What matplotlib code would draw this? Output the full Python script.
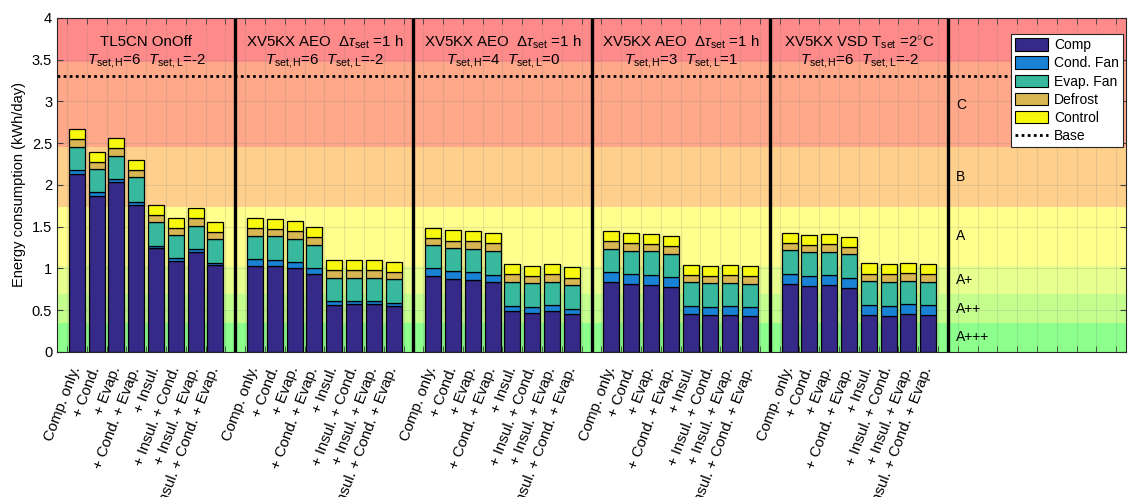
import matplotlib
matplotlib.use("Agg")
import matplotlib.pyplot as plt
from matplotlib.patches import Patch
from matplotlib.lines import Line2D
import numpy as np

plt.rcParams['font.family'] = ['Liberation Sans', 'DejaVu Sans']
plt.rcParams['mathtext.fontset'] = 'custom'
plt.rcParams['mathtext.rm'] = 'Liberation Sans'
plt.rcParams['mathtext.it'] = 'Liberation Sans:italic'

# ---- data (kWh/day) ----
variants = ["Comp. only.", "+ Cond.", "+ Evap.", "+ Cond. + Evap.", "+ Insul.",
            "+ Insul. + Cond.", "+ Insul. + Evap.", "+ Insul. + Cond. + Evap."]

titles_l1 = ["TL5CN OnOff",
             r"XV5KX AEO  $\Delta\tau_{\mathrm{set}}$ =1 h",
             r"XV5KX AEO  $\Delta\tau_{\mathrm{set}}$ =1 h",
             r"XV5KX AEO  $\Delta\tau_{\mathrm{set}}$ =1 h",
             r"XV5KX VSD T$_{\mathrm{set}}$ =2$^{\circ}$C"]
titles_l2 = [r"$T_{\mathrm{set,H}}$=6  $T_{\mathrm{set,L}}$=-2",
             r"$T_{\mathrm{set,H}}$=6  $T_{\mathrm{set,L}}$=-2",
             r"$T_{\mathrm{set,H}}$=4  $T_{\mathrm{set,L}}$=0",
             r"$T_{\mathrm{set,H}}$=3  $T_{\mathrm{set,L}}$=1",
             r"$T_{\mathrm{set,H}}$=6  $T_{\mathrm{set,L}}$=-2"]

comp_g1 = [2.13, 1.865, 2.03, 1.76, 1.245, 1.09, 1.20, 1.04]
comp_g2 = [1.035, 1.025, 1.005, 0.935, 0.563, 0.57, 0.57, 0.55]
comp_g3 = [0.905, 0.875, 0.865, 0.835, 0.487, 0.467, 0.487, 0.45]
comp_g4 = [0.834, 0.81, 0.80, 0.775, 0.45, 0.44, 0.443, 0.431]
comp_g5 = [0.814, 0.79, 0.798, 0.766, 0.443, 0.435, 0.451, 0.439]

cond_g1 = [0.05, 0.045, 0.04, 0.04, 0.03, 0.03, 0.03, 0.03]
cond_g2 = [0.075, 0.075, 0.07, 0.07, 0.045, 0.04, 0.04, 0.04]
cond_g3 = [0.095, 0.09, 0.09, 0.09, 0.068, 0.075, 0.072, 0.07]
cond_g4 = [0.12, 0.12, 0.12, 0.12, 0.10, 0.104, 0.104, 0.104]
cond_g5 = [0.124, 0.12, 0.12, 0.124, 0.124, 0.12, 0.12, 0.12]

evap_g1 = [0.28, 0.28, 0.28, 0.29, 0.28, 0.28, 0.28, 0.28]
evap_g2 = [0.28, 0.285, 0.28, 0.28, 0.28, 0.28, 0.28, 0.28]
evap_g3 = [0.28, 0.28, 0.28, 0.285, 0.283, 0.283, 0.283, 0.283]
evap_g4 = [0.28, 0.28, 0.287, 0.283, 0.283, 0.283, 0.283, 0.283]
evap_g5 = [0.284, 0.288, 0.283, 0.284, 0.283, 0.283, 0.283, 0.283]

defrost_g1 = [0.09, 0.09, 0.09, 0.09, 0.09, 0.09, 0.09, 0.085]
defrost_g2 = [0.09, 0.09, 0.09, 0.09, 0.09, 0.09, 0.09, 0.09]
defrost_g3 = [0.09, 0.09, 0.09, 0.09, 0.09, 0.085, 0.088, 0.088]
defrost_g4 = [0.092, 0.09, 0.088, 0.088, 0.088, 0.088, 0.088, 0.088]
defrost_g5 = [0.087, 0.083, 0.088, 0.087, 0.088, 0.092, 0.088, 0.092]

control_g1 = [0.12, 0.12, 0.12, 0.115, 0.12, 0.12, 0.12, 0.12]
control_g2 = [0.12, 0.12, 0.12, 0.12, 0.12, 0.12, 0.12, 0.12]
control_g3 = [0.12, 0.12, 0.125, 0.12, 0.12, 0.12, 0.12, 0.124]
control_g4 = [0.12, 0.12, 0.12, 0.12, 0.124, 0.12, 0.12, 0.12]
control_g5 = [0.12, 0.12, 0.124, 0.12, 0.124, 0.12, 0.124, 0.12]

base_value = 3.3

# energy class bands
band_edges = [0.0, 0.35, 0.69, 1.03, 1.74, 2.45, 3.47, 4.0]
band_labels = ["A+++", "A++", "A+", "A", "B", "C", ""]
band_colors = ["#8cff8c", "#c4ff8e", "#e6ff8e", "#ffff8e", "#ffd08c", "#ffa88a", "#ff8a8a"]

series_names = ["Comp", "Cond. Fan", "Evap. Fan", "Defrost", "Control"]
series_colors = ["#352a87", "#1a82d4", "#38b99e", "#d8b752", "#f8f80e"]

comp = [comp_g1, comp_g2, comp_g3, comp_g4, comp_g5]
cond = [cond_g1, cond_g2, cond_g3, cond_g4, cond_g5]
evap = [evap_g1, evap_g2, evap_g3, evap_g4, evap_g5]
defrost = [defrost_g1, defrost_g2, defrost_g3, defrost_g4, defrost_g5]
control = [control_g1, control_g2, control_g3, control_g4, control_g5]

n_groups = len(titles_l1)
slot = 9  # bar slots per group incl. gap

fig = plt.figure(figsize=(11.29, 4.97), dpi=100)
ax = fig.add_axes([0.0505, 0.2918, 0.947, 0.672])

# background energy class bands
for lo, hi, col in zip(band_edges[:-1], band_edges[1:], band_colors):
    ax.axhspan(lo, hi, color=col, zorder=0, lw=0)

xs_all, lab_all = [], []
for g in range(n_groups):
    xs = np.arange(1, 9) + g * slot
    bottom = np.zeros(8)
    for vals, col in zip([comp[g], cond[g], evap[g], defrost[g], control[g]], series_colors):
        v = np.array(vals)
        ax.bar(xs, v, width=0.8, bottom=bottom, color=col, edgecolor='black',
               linewidth=0.9, zorder=3)
        bottom += v
    xs_all.extend(xs)
    lab_all.extend(variants)
    xc = g * slot + 4.5
    ax.text(xc, 3.71, titles_l1[g], ha='center', va='center', fontsize=10.8, zorder=5)
    ax.text(xc, 3.49, titles_l2[g], ha='center', va='center', fontsize=10.8, zorder=5)

# group separators
for g in range(1, n_groups + 1):
    ax.axvline(g * slot, color='black', lw=2.4, zorder=4)

# base line
ax.axhline(base_value, color='black', lw=2, ls=(0, (1, 1.2)), zorder=4)

# class labels
for lo, hi, lab in zip(band_edges[:-1], band_edges[1:], band_labels):
    if lab:
        ax.text(n_groups * slot + 0.4, (lo + hi) / 2, lab, ha='left', va='center',
                fontsize=10, zorder=5)

ax.set_xlim(0, (n_groups + 1) * slot)
ax.set_ylim(0, 4)
ax.set_yticks(np.arange(0, 4.01, 0.5))
ax.set_yticklabels(["0", "0.5", "1", "1.5", "2", "2.5", "3", "3.5", "4"])
ax.set_xticks(xs_all)
ax.set_xticklabels(lab_all, rotation=69, ha='right', va='center', rotation_mode='anchor',
                   fontsize=10.8)
ax.set_xticks(np.arange(0.5, (n_groups + 1) * slot, 1), minor=True)
ax.tick_params(axis='x', which='major', length=0, pad=11)
ax.tick_params(axis='x', which='minor', direction='in', top=True, length=4, color='#404040')
ax.tick_params(axis='y', direction='in', right=True, length=4, labelsize=10.5, color='#404040')
ax.grid(True, axis='y', which='major', color='#808080', alpha=0.2, lw=0.8, zorder=1)
ax.grid(True, axis='x', which='minor', color='#808080', alpha=0.2, lw=0.8, zorder=1)
ax.set_axisbelow(False)
for s in ax.spines.values():
    s.set_linewidth(0.8)
    s.set_color('#262626')
    s.set_zorder(6)
ax.set_ylabel("Energy consumption (kWh/day)", fontsize=10.5, labelpad=4)

handles = [Patch(facecolor=c, edgecolor='black', lw=0.8, label=n)
           for n, c in zip(series_names, series_colors)]
handles.append(Line2D([0], [0], color='black', lw=2, ls=(0, (1, 1.2)), label='Base'))
leg = ax.legend(handles=handles, loc='upper right', bbox_to_anchor=(0.9995, 0.96),
                fontsize=10, frameon=True, fancybox=False, framealpha=1,
                edgecolor='#262626', handlelength=2.4, handleheight=1.0,
                labelspacing=0.3, borderpad=0.3, handletextpad=0.4, borderaxespad=0.2)
leg.get_frame().set_linewidth(0.8)
leg.set_zorder(7)

fig.savefig("out.png", dpi=100)
